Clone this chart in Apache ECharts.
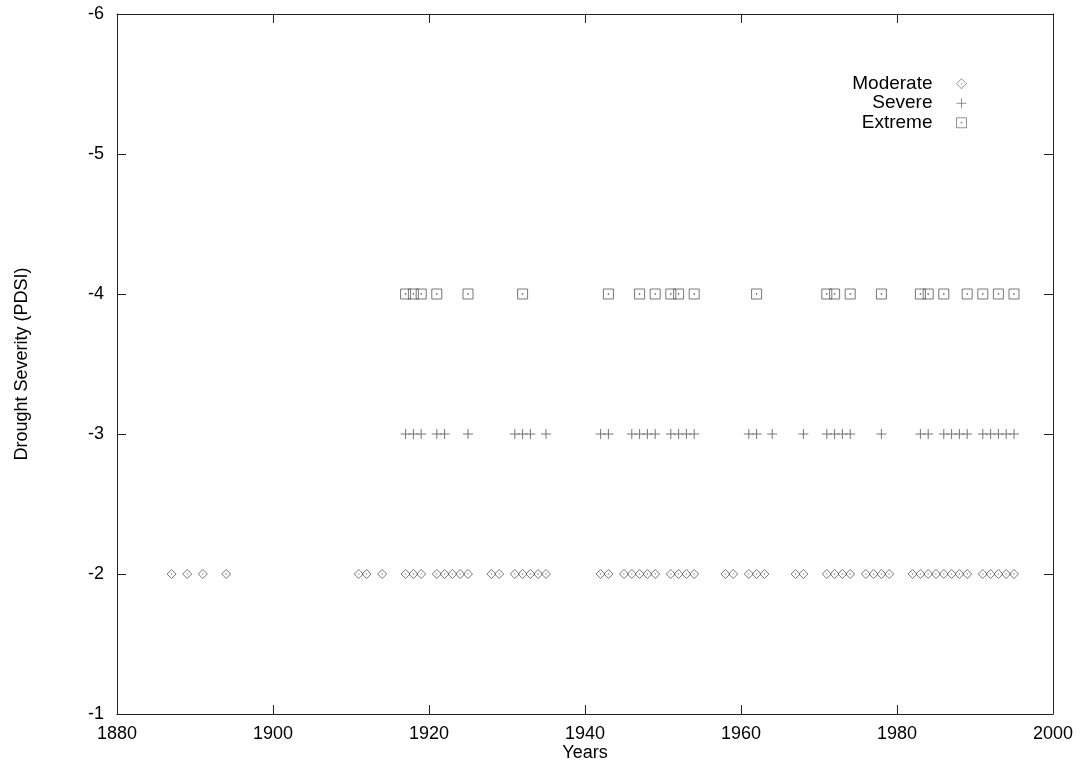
<!DOCTYPE html>
<html>
<head>
<meta charset="utf-8">
<title>Drought Severity (PDSI)</title>
<script src="https://cdn.jsdelivr.net/npm/echarts@6/dist/echarts.min.js"></script>
<style>
  html, body { margin: 0; padding: 0; background: #fff; }
  #content { width: 1080px; height: 765px; }
</style>
</head>
<body>
<div id="content"></div>
<script>
// years in which each drought class occurred
var moderateYears = [1887, 1889, 1891, 1894, 1911, 1912, 1914, 1917, 1918, 1919,
    1921, 1922, 1923, 1924, 1925, 1928, 1929, 1931, 1932, 1933, 1934, 1935,
    1942, 1943, 1945, 1946, 1947, 1948, 1949, 1951, 1952, 1953, 1954, 1958, 1959,
    1961, 1962, 1963, 1967, 1968, 1971, 1972, 1973, 1974, 1976, 1977, 1978, 1979,
    1982, 1983, 1984, 1985, 1986, 1987, 1988, 1989, 1991, 1992, 1993, 1994, 1995];
var severeYears = [1917, 1918, 1919, 1921, 1922, 1925, 1931, 1932, 1933, 1935,
    1942, 1943, 1946, 1947, 1948, 1949, 1951, 1952, 1953, 1954, 1961, 1962, 1964,
    1968, 1971, 1972, 1973, 1974, 1978, 1983, 1984, 1986, 1987, 1988, 1989,
    1991, 1992, 1993, 1994, 1995];
var extremeYears = [1917, 1918, 1919, 1921, 1925, 1932, 1943, 1947, 1949, 1951,
    1952, 1954, 1962, 1971, 1972, 1974, 1978, 1983, 1984, 1986, 1989, 1991,
    1993, 1995];

var seriesNames = ["Moderate", "Severe", "Extreme"];
var seriesLevels = [-2, -3, -4];

var myChart = echarts.init(document.getElementById("content"));

var fontFamily = "'Liberation Sans', Arial, Helvetica, sans-serif";
var pointColor = "#555";

// gnuplot style point symbols (stroked, with a centre dot)
var diamondPath = "path://M5,0 L10,5 L5,10 L0,5 Z M5,4.6 L5.4,5 L5,5.4 L4.6,5 Z";
var plusPath = "path://M0,5 L10,5 M5,0 L5,10";
var boxPath = "path://M0,0 L10,0 L10,10 L0,10 Z M4.6,4.6 L5.4,4.6 L5.4,5.4 L4.6,5.4 Z";
var symbols = [diamondPath, plusPath, boxPath];
var symbolSizes = [9, 10, 10];

function toPoints(years, level) {
    var pts = [];
    for (var i = 0; i < years.length; i++) {
        pts.push([years[i], level]);
    }
    return pts;
}

var allYears = [moderateYears, severeYears, extremeYears];
var series = [];
for (var i = 0; i < seriesNames.length; i++) {
    series.push({
        name: seriesNames[i],
        type: "scatter",
        data: toPoints(allYears[i], seriesLevels[i]),
        symbol: symbols[i],
        symbolSize: symbolSizes[i],
        itemStyle: {
            color: "none",
            borderColor: pointColor,
            borderWidth: 1
        },
        emphasis: { disabled: true },
        animation: false
    });
}

var tickStyle = { inside: true, length: 9, lineStyle: { color: "#222", width: 1 } };
var lineStyle = { show: true, onZero: false, lineStyle: { color: "#222", width: 1 } };
var labelStyle = { color: "#000", fontSize: 18, fontFamily: fontFamily };

myChart.setOption({
    backgroundColor: "#fff",
    animation: false,
    grid: { left: 117, right: 27, top: 14, bottom: 51, outerBoundsMode: "none" },
    legend: {
        orient: "vertical",
        align: "right",
        right: 111,
        top: 74,
        padding: 0,
        itemGap: 0,
        itemWidth: 10,
        itemHeight: 10,
        itemStyle: { borderWidth: 0.8 },
        textStyle: { color: "#000", fontSize: 19, lineHeight: 19.5, fontFamily: fontFamily, padding: [0, 19, 0, 0] },
        data: seriesNames.map(function(n, k) {
            return { name: n, icon: symbols[k] };
        }),
        selectedMode: false
    },
    xAxis: [{
        type: "value",
        min: 1880,
        max: 2000,
        interval: 20,
        position: "bottom",
        name: "Years",
        nameLocation: "middle",
        nameGap: 30,
        nameMoveOverlap: false,
        nameTextStyle: labelStyle,
        axisLine: lineStyle,
        axisTick: tickStyle,
        axisLabel: Object.assign({
            margin: 11,
            formatter: function(v) { return String(v); }
        }, labelStyle),
        splitLine: { show: false }
    }, {
        type: "value",
        min: 1880,
        max: 2000,
        interval: 20,
        position: "top",
        axisLine: lineStyle,
        axisTick: tickStyle,
        axisLabel: { show: false },
        splitLine: { show: false }
    }],
    yAxis: [{
        type: "value",
        min: -6,
        max: -1,
        interval: 1,
        inverse: true,
        position: "left",
        name: "Drought Severity (PDSI)",
        nameLocation: "middle",
        nameGap: 86,
        nameMoveOverlap: false,
        nameTextStyle: labelStyle,
        axisLine: lineStyle,
        axisTick: tickStyle,
        axisLabel: Object.assign({ margin: 13 }, labelStyle),
        splitLine: { show: false }
    }, {
        type: "value",
        min: -6,
        max: -1,
        interval: 1,
        inverse: true,
        position: "right",
        axisLine: lineStyle,
        axisTick: tickStyle,
        axisLabel: { show: false },
        splitLine: { show: false }
    }],
    series: series
});
</script>
</body>
</html>
